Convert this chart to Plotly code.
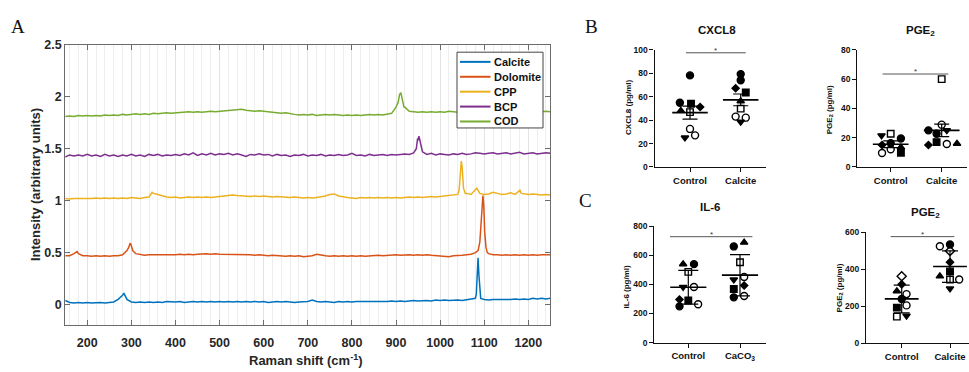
import plotly.graph_objects as go

W, H = 969, 372
SANS = "Liberation Sans, Arial, sans-serif"
SERIF = "Liberation Serif, Times New Roman, serif"

# ---------------- Panel A data (Raman spectra) ----------------
raman_x = list(range(150, 1251, 10))

calcite_base = [
    0.04, 0.02, 0.015, 0.02, 0.015, 0.02, 0.015, 0.02, 0.02, 0.015,
    0.02, 0.025, 0.05, 0.09, 0.05, 0.025, 0.02, 0.025, 0.02, 0.025,
    0.02, 0.025, 0.02, 0.03, 0.025, 0.025, 0.03, 0.02, 0.025, 0.03,
    0.025, 0.03, 0.025, 0.03, 0.025, 0.03, 0.025, 0.03, 0.025, 0.03,
    0.025, 0.03, 0.025, 0.03, 0.025, 0.03, 0.02, 0.025, 0.03, 0.025,
    0.03, 0.025, 0.02, 0.025, 0.03, 0.03, 0.045, 0.03, 0.025, 0.03,
    0.025, 0.02, 0.03, 0.025, 0.03, 0.025, 0.03, 0.03, 0.025, 0.03,
    0.03, 0.025, 0.03, 0.03, 0.035, 0.03, 0.035, 0.03, 0.035, 0.04,
    0.035, 0.04, 0.04, 0.035, 0.045, 0.04, 0.045, 0.04, 0.045, 0.045,
    0.04, 0.045, 0.05, 0.06, 0.09, 0.05, 0.045, 0.05, 0.05, 0.045,
    0.05, 0.05, 0.055, 0.05, 0.055, 0.05, 0.06, 0.055, 0.06, 0.055, 0.06]
calcite_peak_x = [276, 283, 287, 1082, 1084, 1086, 1088, 1090, 1092]
calcite_peak_y = [0.07, 0.11, 0.07, 0.1, 0.3, 0.45, 0.28, 0.09, 0.06]

dolomite_base = [
    0.47, 0.47, 0.49, 0.49, 0.47, 0.47, 0.465, 0.47, 0.465, 0.47,
    0.465, 0.47, 0.47, 0.48, 0.52, 0.56, 0.49, 0.48, 0.475, 0.48,
    0.48, 0.475, 0.48, 0.48, 0.475, 0.48, 0.485, 0.48, 0.485, 0.48,
    0.485, 0.49, 0.49, 0.485, 0.49, 0.485, 0.485, 0.48, 0.485, 0.48,
    0.48, 0.485, 0.48, 0.475, 0.48, 0.475, 0.47, 0.475, 0.47, 0.47,
    0.465, 0.47, 0.465, 0.47, 0.46, 0.465, 0.47, 0.485, 0.475, 0.47,
    0.465, 0.47, 0.465, 0.47, 0.465, 0.47, 0.465, 0.47, 0.465, 0.47,
    0.47, 0.475, 0.47, 0.475, 0.475, 0.48, 0.475, 0.48, 0.48, 0.475,
    0.48, 0.475, 0.48, 0.475, 0.47, 0.47, 0.465, 0.46, 0.47, 0.47,
    0.475, 0.48, 0.485, 0.5, 0.6, 0.82, 0.49, 0.48, 0.48, 0.475,
    0.48, 0.475, 0.48, 0.475, 0.48, 0.475, 0.48, 0.475, 0.48, 0.48, 0.48]
dolomite_peak_x = [174, 177, 294, 297, 299, 303, 1086, 1093, 1095, 1097, 1099, 1101, 1104, 1107]
dolomite_peak_y = [0.5, 0.51, 0.55, 0.59, 0.58, 0.52, 0.52, 0.85, 1.0, 1.05, 0.95, 0.7, 0.55, 0.5]

cpp_base = [
    1.02, 1.015, 1.02, 1.02, 1.015, 1.02, 1.02, 1.025, 1.02, 1.025,
    1.02, 1.025, 1.02, 1.025, 1.02, 1.03, 1.025, 1.02, 1.03, 1.035,
    1.07, 1.06, 1.045, 1.035, 1.03, 1.035, 1.025, 1.03, 1.035, 1.03,
    1.035, 1.03, 1.035, 1.03, 1.035, 1.035, 1.04, 1.045, 1.055, 1.05,
    1.045, 1.045, 1.04, 1.045, 1.04, 1.045, 1.04, 1.035, 1.04, 1.035,
    1.035, 1.03, 1.035, 1.03, 1.025, 1.03, 1.025, 1.03, 1.035, 1.045,
    1.06, 1.065, 1.045, 1.035, 1.03, 1.025, 1.02, 1.03, 1.025, 1.03,
    1.025, 1.03, 1.025, 1.03, 1.025, 1.03, 1.025, 1.03, 1.035, 1.03,
    1.035, 1.03, 1.035, 1.04, 1.035, 1.04, 1.04, 1.045, 1.05, 1.06,
    1.32, 1.07, 1.06, 1.1, 1.07, 1.06, 1.065, 1.08, 1.07, 1.06,
    1.065, 1.075, 1.06, 1.09, 1.065, 1.06, 1.065, 1.06, 1.055, 1.06, 1.055]
cpp_peak_x = [347, 1043, 1046, 1048, 1050, 1053, 1057, 1083, 1178, 1181, 1184]
cpp_peak_y = [1.08, 1.1, 1.3, 1.38, 1.32, 1.12, 1.07, 1.12, 1.085, 1.1, 1.07]

bcp_base = [
    1.42, 1.44, 1.43, 1.44, 1.43, 1.445, 1.43, 1.44, 1.425, 1.445,
    1.43, 1.44, 1.425, 1.44, 1.43, 1.445, 1.43, 1.44, 1.425, 1.445,
    1.435, 1.445, 1.43, 1.44, 1.435, 1.445, 1.435, 1.45, 1.44, 1.46,
    1.435, 1.45, 1.44, 1.455, 1.44, 1.45, 1.445, 1.455, 1.44, 1.45,
    1.44, 1.425, 1.445, 1.44, 1.45, 1.44, 1.445, 1.43, 1.445, 1.435,
    1.44, 1.425, 1.44, 1.435, 1.445, 1.43, 1.44, 1.435, 1.445, 1.43,
    1.44, 1.435, 1.445, 1.435, 1.44, 1.455, 1.435, 1.44, 1.43, 1.445,
    1.435, 1.44, 1.445, 1.435, 1.445, 1.44, 1.445, 1.45, 1.445, 1.46,
    1.58, 1.47, 1.445, 1.455, 1.44, 1.45, 1.445, 1.44, 1.45, 1.445,
    1.455, 1.445, 1.45, 1.46, 1.455, 1.45, 1.455, 1.46, 1.45, 1.455,
    1.46, 1.45, 1.455, 1.465, 1.45, 1.455, 1.46, 1.45, 1.455, 1.46, 1.455]
bcp_peak_x = [946, 949, 952, 955, 958]
bcp_peak_y = [1.5, 1.6, 1.62, 1.56, 1.48]

cod_base = [
    1.81, 1.815, 1.81, 1.82, 1.815, 1.82, 1.815, 1.82, 1.815, 1.825,
    1.82, 1.825, 1.82, 1.83, 1.825, 1.83, 1.835, 1.83, 1.835, 1.83,
    1.84, 1.835, 1.84, 1.845, 1.84, 1.845, 1.845, 1.85, 1.855, 1.85,
    1.855, 1.85, 1.855, 1.86, 1.855, 1.86, 1.86, 1.865, 1.87, 1.875,
    1.88, 1.87, 1.865, 1.86, 1.865, 1.86, 1.855, 1.85, 1.845, 1.84,
    1.845, 1.835, 1.83, 1.825, 1.83, 1.825, 1.83, 1.82, 1.825, 1.83,
    1.825, 1.83, 1.825, 1.82, 1.825, 1.82, 1.825, 1.82, 1.825, 1.83,
    1.825, 1.83, 1.825, 1.83, 1.84, 1.9, 2.03, 1.9, 1.86, 1.855,
    1.85, 1.855, 1.85, 1.855, 1.85, 1.855, 1.85, 1.86, 1.855, 1.85,
    1.855, 1.86, 1.855, 1.86, 1.855, 1.86, 1.855, 1.86, 1.855, 1.86,
    1.855, 1.86, 1.855, 1.86, 1.855, 1.86, 1.855, 1.86, 1.855, 1.86, 1.855]
cod_peak_x = [905, 908, 911, 914, 918]
cod_peak_y = [1.95, 2.02, 2.04, 1.98, 1.9]

series_names = ["Calcite", "Dolomite", "CPP", "BCP", "COD"]
series_colors = ["#0072BD", "#D95319", "#EDB120", "#7E2F8E", "#77AC30"]
series_base = [calcite_base, dolomite_base, cpp_base, bcp_base, cod_base]
series_peak_x = [calcite_peak_x, dolomite_peak_x, cpp_peak_x, bcp_peak_x, cod_peak_x]
series_peak_y = [calcite_peak_y, dolomite_peak_y, cpp_peak_y, bcp_peak_y, cod_peak_y]

# ---------------- Panels B / C data (dot plots) ----------------
cxcl8_ctrl = [78.2, 54.8, 54.0, 51.2, 48.0, 46.8, 32.5, 25.0, 27.0]
cxcl8_ctrl_sym = ["circle", "circle", "square", "diamond", "triangle-up", "square-open", "circle-open", "triangle-down", "circle-open"]
cxcl8_ctrl_dx = [0, -0.2, 0.02, 0.2, -0.18, 0, 0, -0.1, 0.1]
cxcl8_trt = [79.3, 74.0, 67.2, 63.6, 56.2, 49.8, 43.0, 42.1, 38.5]
cxcl8_trt_sym = ["circle", "circle", "diamond", "square", "triangle-up", "square-open", "circle-open", "circle-open", "triangle-down"]
cxcl8_trt_dx = [0, 0, -0.1, 0.1, 0, 0, -0.1, 0.1, 0]
cxcl8_mean = [46.4, 57.3]
cxcl8_err = [5.5, 5.0]

pge2b_ctrl = [21.5, 22.7, 19.4, 15.0, 16.3, 13.4, 9.5, 12.1, 9.7]
pge2b_ctrl_sym = ["triangle-down", "square-open", "circle", "diamond", "circle", "triangle-up", "circle-open", "circle-open", "square"]
pge2b_ctrl_dx = [-0.18, 0, 0.2, -0.17, 0, 0.2, -0.17, 0, 0.2]
pge2b_trt = [60.0, 28.9, 25.0, 25.0, 22.7, 15.0, 17.0, 15.7, 16.0]
pge2b_trt_sym = ["square-open", "circle-open", "circle", "triangle-down", "circle", "diamond", "square", "circle-open", "triangle-up"]
pge2b_trt_dx = [0, 0, -0.26, 0.1, -0.1, -0.26, -0.1, 0.1, 0.3]
pge2b_mean = [15.5, 25.0]
pge2b_err = [2.3, 4.3]

il6_ctrl = [540, 540, 487, 382, 382, 296, 289, 249, 264]
il6_ctrl_sym = ["triangle-up", "circle", "square-open", "triangle-down", "circle-open", "diamond", "square", "circle", "circle-open"]
il6_ctrl_dx = [-0.1, 0.11, 0, -0.1, 0.11, -0.17, 0, -0.17, 0.19]
il6_trt = [662, 689, 553, 433, 451, 369, 393, 311, 320]
il6_trt_sym = ["circle", "triangle-up", "square-open", "triangle-down", "circle-open", "square", "diamond", "circle", "circle-open"]
il6_trt_dx = [-0.12, 0.08, 0, -0.12, 0.08, -0.12, 0.08, -0.12, 0.08]
il6_mean = [381, 464]
il6_err = [116, 142]

pge2c_ctrl = [362, 318, 281, 265, 239, 204, 192, 143, 148]
pge2c_ctrl_sym = ["diamond-open", "diamond", "triangle-up", "circle-open", "circle", "circle-open", "square", "square-open", "triangle-down"]
pge2c_ctrl_dx = [0, 0, -0.1, 0.1, 0, 0.1, -0.1, -0.1, 0.1]
pge2c_trt = [524, 533, 498, 438, 388, 362, 344, 344, 295]
pge2c_trt_sym = ["circle-open", "circle", "diamond-open", "diamond", "square", "triangle-up", "square-open", "circle-open", "triangle-down"]
pge2c_trt_dx = [-0.21, 0, 0, 0, 0, -0.21, 0, 0.19, 0]
pge2c_mean = [239, 414]
pge2c_err = [75, 85]

cxcl8_cats = ["Control", "Calcite"]
pge2b_cats = ["Control", "Calcite"]
il6_cats = ["Control", "CaCO<sub>3</sub>"]
pge2c_cats = ["Control", "Calcite"]

# significance bars: x0, x1 (category units), y (data units)
sig_x0 = [0.92, 0.84, 0.646, 0.77]
sig_x1 = [2.1, 2.13, 2.24, 2.09]
sig_y = [97.5, 63.5, 729, 576]

# ---------------- helpers ----------------
def xdom(l, r):
    return [l / W, r / W]

def ydom(t, b):
    return [1 - b / H, 1 - t / H]

def merge(base, px, py):
    d = dict(zip(raman_x, base))
    d.update(zip(px, py))
    xs = sorted(d)
    return xs, [d[k] for k in xs]

fig = go.Figure()

# Panel A traces
for name, col, b, pxs, pys in zip(series_names, series_colors, series_base, series_peak_x, series_peak_y):
    xs, ys = merge(b, pxs, pys)
    fig.add_trace(go.Scatter(x=xs, y=ys, mode="lines", name=name,
                             line=dict(color=col, width=1.5), xaxis="x", yaxis="y",
                             showlegend=False, hoverinfo="skip"))

sym_size = {"circle": 7, "circle-open": 7, "square": 6.5, "square-open": 6.5,
            "triangle-up": 6.5, "triangle-down": 6.5, "diamond": 5.5, "diamond-open": 7}

small = [
    dict(l=654.5, r=766, c1=690.0, c2=740.7, t=44.3, b=165.3, ymax=100, dt=20, cap=7.5,
         ctrl=(cxcl8_ctrl, cxcl8_ctrl_sym, cxcl8_ctrl_dx), trt=(cxcl8_trt, cxcl8_trt_sym, cxcl8_trt_dx),
         mean=cxcl8_mean, err=cxcl8_err, cats=cxcl8_cats),
    dict(l=857.3, r=967, c1=890.7, c2=941.7, t=44.3, b=165.3, ymax=80, dt=20, cap=7.5,
         ctrl=(pge2b_ctrl, pge2b_ctrl_sym, pge2b_ctrl_dx), trt=(pge2b_trt, pge2b_trt_sym, pge2b_trt_dx),
         mean=pge2b_mean, err=pge2b_err, cats=pge2b_cats),
    dict(l=654.3, r=766, c1=688.3, c2=740.0, t=226.7, b=346.7, ymax=800, dt=200, cap=10,
         ctrl=(il6_ctrl, il6_ctrl_sym, il6_ctrl_dx), trt=(il6_trt, il6_trt_sym, il6_trt_dx),
         mean=il6_mean, err=il6_err, cats=il6_cats),
    dict(l=866.0, r=969, c1=901.7, c2=950.0, t=232.7, b=347.3, ymax=600, dt=200, cap=8,
         ctrl=(pge2c_ctrl, pge2c_ctrl_sym, pge2c_ctrl_dx), trt=(pge2c_trt, pge2c_trt_sym, pge2c_trt_dx),
         mean=pge2c_mean, err=pge2c_err, cats=pge2c_cats),
]

layout_axes = {}
shapes = []
annotations = []

for i, p in enumerate(small):
    k = i + 2
    xa, ya = f"x{k}", f"y{k}"
    s = p["c2"] - p["c1"]
    xr = [1 - (p["c1"] - p["l"]) / s, 2 + (p["r"] - p["c2"]) / s]
    for c, grp in ((1, p["ctrl"]), (2, p["trt"])):
        vals, syms, dxs = grp
        for v, sy, dx in zip(vals, syms, dxs):
            fig.add_trace(go.Scatter(
                x=[c + dx], y=[v], mode="markers", xaxis=xa, yaxis=ya, showlegend=False,
                marker=dict(symbol=sy, size=sym_size[sy], color="black",
                            line=dict(color="black", width=1.4)),
                hoverinfo="skip"))
    for c, m, e in zip((1, 2), p["mean"], p["err"]):
        fig.add_trace(go.Scatter(x=[c - 0.35, c + 0.35], y=[m, m], mode="lines",
                                 line=dict(color="black", width=1.6), xaxis=xa, yaxis=ya,
                                 showlegend=False, hoverinfo="skip"))
        fig.add_trace(go.Scatter(x=[c], y=[m], mode="markers", marker=dict(size=1, opacity=0),
                                 error_y=dict(type="data", array=[e], symmetric=True, color="black",
                                              thickness=1.2, width=p["cap"]),
                                 xaxis=xa, yaxis=ya, showlegend=False, hoverinfo="skip"))
    layout_axes[f"xaxis{k}"] = dict(
        domain=xdom(p["l"], p["r"]), range=xr, anchor=ya, tickmode="array",
        tickvals=[1, 2], ticktext=p["cats"], showgrid=False, zeroline=False,
        showline=True, linecolor="#111", linewidth=1.3, ticks="outside", ticklen=4,
        tickcolor="#111", tickwidth=1.2,
        tickfont=dict(family=SANS, size=9.5, color="#111", weight="bold"))
    layout_axes[f"yaxis{k}"] = dict(
        domain=ydom(p["t"], p["b"]), range=[0, p["ymax"]], anchor=xa, dtick=p["dt"], tick0=0,
        showgrid=False, zeroline=False, showline=True, linecolor="#111", linewidth=1.3,
        ticks="outside", ticklen=4, tickcolor="#111", tickwidth=1.2,
        tickfont=dict(family=SANS, size=8.5, color="#111", weight="bold"))
    shapes.append(dict(type="line", xref=xa, yref=ya, x0=sig_x0[i], x1=sig_x1[i],
                       y0=sig_y[i], y1=sig_y[i], line=dict(color="#555", width=1)))
    annotations.append(dict(xref=xa, yref=ya, x=(sig_x0[i] + sig_x1[i]) / 2, y=sig_y[i],
                            text="*", showarrow=False, yanchor="bottom", yshift=-4,
                            font=dict(family=SANS, size=8, color="#333")))

def pa(x, y, text, size, family=SANS, angle=0, weight="bold", xanchor="center", color="#111"):
    annotations.append(dict(xref="paper", yref="paper", x=x / W, y=1 - y / H, text=text,
                            showarrow=False, textangle=angle, xanchor=xanchor, yanchor="middle",
                            font=dict(family=family, size=size, color=color, weight=weight)))

pa(18, 20, "A", 19, family=SERIF, weight="normal")
pa(591, 20, "B", 19, family=SERIF, weight="normal")
pa(585, 200, "C", 19, family=SERIF, weight="normal")

pa(716.7, 23.3, "CXCL8", 11.5)
pa(920, 25, "PGE<sub>2</sub>", 11.5)
pa(710, 206.7, "IL-6", 11.5)
pa(925.7, 213.3, "PGE<sub>2</sub>", 11.5)

pa(628.3, 104, "CXCL8 (pg/ml)", 8, angle=-90)
pa(830, 106.7, "PGE<sub>2</sub> (pg/ml)", 8, angle=-90)
pa(626.7, 289, "IL-6 (pg/ml)", 8, angle=-90)
pa(840, 290.8, "PGE<sub>2</sub> (pg/ml)", 8, angle=-90)

pa(35, 184, "Intensity (arbitrary units)", 13, angle=-90, color="#262626")
pa(306, 365, "Raman shift (cm<sup>-1</sup>)", 13, color="#262626")

# manual legend for panel A
lx0, lx1, ly0, ly1 = 457, 543, 46.7, 125
shapes.append(dict(type="rect", xref="paper", yref="paper", x0=lx0 / W, x1=lx1 / W,
                   y0=1 - ly1 / H, y1=1 - ly0 / H, line=dict(color="#444", width=1),
                   fillcolor="white", layer="above"))
for j, (name, col) in enumerate(zip(series_names, series_colors)):
    yy = 56.7 + j * 15.4
    shapes.append(dict(type="line", xref="paper", yref="paper", x0=460 / W, x1=490.5 / W,
                       y0=1 - yy / H, y1=1 - yy / H, line=dict(color=col, width=2), layer="above"))
    pa(492.3, yy, name, 11, xanchor="left", color="#111")

fig.update_layout(
    width=W, height=H, margin=dict(l=0, r=0, t=0, b=0),
    paper_bgcolor="white", plot_bgcolor="white", showlegend=False,
    xaxis=dict(domain=xdom(65.2, 550.4), range=[150, 1250], anchor="y", dtick=100, tick0=0,
               showgrid=True, gridcolor="#e4e4e4", gridwidth=1, zeroline=False,
               minor=dict(dtick=20, showgrid=True, gridcolor="#eeeeee", gridwidth=1),
               showline=True, mirror="ticks", linecolor="#6b6b6b", linewidth=1,
               ticks="inside", ticklen=5, tickcolor="#6b6b6b", ticklabelstandoff=6,
               tickfont=dict(family=SANS, size=12.5, color="#262626", weight="bold")),
    yaxis=dict(domain=ydom(39, 329), range=[-0.2, 2.5], anchor="x", dtick=0.5, tick0=0,
               showgrid=False, zeroline=False, showline=True, mirror="ticks",
               linecolor="#6b6b6b", linewidth=1, ticks="inside", ticklen=5, tickcolor="#6b6b6b",
               tickfont=dict(family=SANS, size=12.5, color="#262626", weight="bold")),
    shapes=shapes, annotations=annotations, **layout_axes)

fig.write_html("out.html", config={"displayModeBar": False},
               post_script="document.body.style.margin='0';document.body.style.padding='0';"
                           "document.body.style.overflow='hidden';")
